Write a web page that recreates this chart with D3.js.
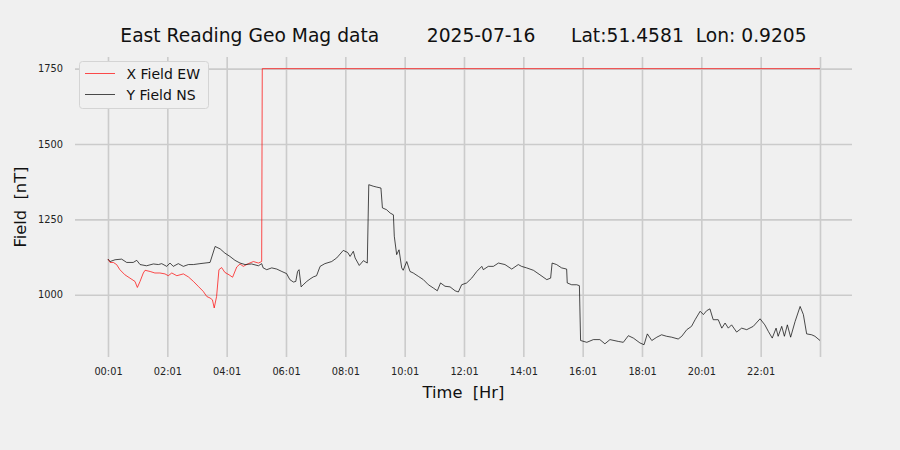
<!DOCTYPE html>
<html>
<head>
<meta charset="utf-8">
<script src="https://cdn.jsdelivr.net/npm/d3@7"></script>
<style>
  html, body { margin: 0; padding: 0; background: #f0f0f0; }
  svg { display: block; }
  text { font-family: "DejaVu Sans", sans-serif; }
</style>
</head>
<body>
<svg id="chart" width="900" height="450"></svg>
<script>
// ---- Data: [hours since 00:01, field nT] ----
const titleText = "East Reading Geo Mag data        2025-07-16      Lat:51.4581  Lon: 0.9205";
const seriesNames = ["X Field EW", "Y Field NS"];
const seriesColors = ["#ff0000", "#000000"];

const xFieldEW = [
  [0.00,1118],[0.07,1107],[0.18,1107],[0.29,1100],[0.40,1083],[0.57,1066],[0.74,1055],[0.91,1044],[0.99,1024],
  [1.08,1044],[1.19,1072],[1.25,1081],[1.42,1077],[1.58,1072],[1.75,1072],[1.92,1069],[2.03,1063],[2.15,1072],
  [2.32,1063],[2.54,1069],[2.71,1059],[2.88,1044],[3.04,1028],[3.21,1011],[3.33,994],[3.44,989],[3.52,983],
  [3.58,956],[3.66,994],[3.74,1083],[3.83,1090],[3.94,1074],[4.08,1066],[4.20,1058],[4.34,1092],[4.45,1102],
  [4.56,1094],[4.73,1103],[4.90,1110],[5.07,1105],[5.18,1110],[5.20,1750],[24.00,1750]
];

const yFieldNS = [
  [0.00,1118],[0.07,1110],[0.24,1116],[0.46,1118],[0.63,1107],[0.85,1107],[0.97,1114],[1.08,1100],[1.30,1096],
  [1.53,1102],[1.70,1100],[1.81,1103],[1.98,1094],[2.09,1105],[2.20,1094],[2.37,1103],[2.54,1094],[2.71,1100],
  [2.88,1100],[3.10,1103],[3.44,1107],[3.61,1160],[3.78,1152],[3.94,1138],[4.11,1127],[4.28,1114],[4.45,1105],
  [4.62,1100],[4.84,1102],[5.07,1096],[5.18,1103],[5.23,1089],[5.35,1083],[5.52,1089],[5.69,1085],[5.86,1077],
  [6.02,1070],[6.13,1050],[6.25,1042],[6.33,1044],[6.39,1077],[6.44,1083],[6.51,1026],[6.58,1033],[6.70,1044],
  [6.81,1052],[6.92,1059],[7.03,1063],[7.15,1094],[7.31,1103],[7.54,1110],[7.71,1122],[7.93,1147],[8.08,1140],
  [8.16,1127],[8.27,1144],[8.33,1122],[8.47,1097],[8.61,1113],[8.74,1105],[8.79,1365],[8.94,1360],[9.06,1357],
  [9.20,1354],[9.25,1288],[9.39,1282],[9.51,1271],[9.62,1265],[9.65,1194],[9.73,1133],[9.81,1149],[9.90,1089],
  [9.95,1081],[10.07,1110],[10.18,1077],[10.29,1072],[10.46,1061],[10.63,1050],[10.80,1033],[10.97,1022],
  [11.10,1013],[11.21,1039],[11.36,1028],[11.53,1026],[11.70,1013],[11.81,1009],[11.92,1033],[12.09,1039],
  [12.26,1055],[12.43,1077],[12.60,1094],[12.65,1083],[12.82,1094],[12.99,1094],[13.16,1105],[13.38,1100],
  [13.61,1085],[13.83,1100],[13.94,1094],[14.11,1089],[14.34,1081],[14.56,1066],[14.79,1050],[14.92,1055],
  [14.97,1105],[15.12,1100],[15.29,1089],[15.46,1085],[15.48,1039],[15.63,1033],[15.80,1033],[15.89,1030],
  [15.93,848],[16.14,842],[16.36,851],[16.58,851],[16.75,837],[16.92,851],[17.20,845],[17.37,842],[17.54,864],
  [17.71,856],[17.93,840],[18.07,834],[18.18,870],[18.33,848],[18.50,859],[18.66,867],[18.83,862],[19.00,859],
  [19.22,853],[19.34,862],[19.51,884],[19.67,895],[19.79,917],[19.96,945],[20.07,934],[20.18,947],[20.29,953],
  [20.40,917],[20.57,917],[20.69,889],[20.80,906],[20.91,889],[21.02,900],[21.19,876],[21.36,889],[21.53,884],
  [21.75,895],[21.98,920],[22.14,900],[22.26,878],[22.39,856],[22.52,889],[22.59,862],[22.71,895],[22.80,862],
  [22.90,900],[23.01,859],[23.16,911],[23.33,961],[23.44,934],[23.55,870],[23.72,867],[23.83,862],[24.00,848]
];

const xTickValues = [0, 2, 4, 6, 8, 10, 12, 14, 16, 18, 20, 22, 24];
const xTickLabels = ["00:01", "02:01", "04:01", "06:01", "08:01", "10:01", "12:01", "14:01", "16:01", "18:01", "20:01", "22:01", ""];
const yTickValues = [1000, 1250, 1500, 1750];

// ---- Layout ----
const svg = d3.select("#chart");
const W = 900, H = 450;
const plot = { left: 75, right: 852, top: 57, bottom: 357 };

svg.append("rect").attr("width", W).attr("height", H).attr("fill", "#f0f0f0");

const x = d3.scaleLinear().domain([0, 24]).range([108, 820]);
const y = d3.scaleLinear().domain([1000, 1750]).range([294.7, 68.65]);

// Grid
const gridColor = "#cbcbcb";
const gx = svg.append("g").attr("transform", `translate(0,${plot.bottom})`)
  .call(d3.axisBottom(x).tickValues(xTickValues).tickFormat((d, i) => xTickLabels[i])
    .tickSize(-(plot.bottom - plot.top)).tickPadding(11));
gx.select(".domain").remove();
gx.selectAll(".tick line").attr("stroke", gridColor).attr("stroke-width", 1.6);
gx.selectAll(".tick text").attr("font-size", "9.8px").attr("fill", "#222")
  .attr("font-family", "DejaVu Sans, sans-serif");

const gy = svg.append("g").attr("transform", `translate(${plot.left},0)`)
  .call(d3.axisLeft(y).tickValues(yTickValues).tickFormat(d3.format("d"))
    .tickSize(-(plot.right - plot.left)).tickPadding(12));
gy.select(".domain").remove();
gy.selectAll(".tick line").attr("stroke", gridColor).attr("stroke-width", 1.6);
gy.selectAll(".tick text").attr("font-size", "9.8px").attr("fill", "#222")
  .attr("font-family", "DejaVu Sans, sans-serif");

// Lines
const lineGen = d3.line().x(d => x(d[0])).y(d => y(d[1]));
[xFieldEW, yFieldNS].forEach((data, i) => {
  svg.append("path").datum(data)
    .attr("d", lineGen)
    .attr("fill", "none")
    .attr("stroke", seriesColors[i])
    .attr("stroke-width", 0.7)
    .attr("stroke-linejoin", "round");
});

// Title
svg.append("text")
  .attr("x", (plot.left + plot.right) / 2).attr("y", 42)
  .attr("text-anchor", "middle")
  .attr("font-size", "18.7px")
  .attr("fill", "#111")
  .style("white-space", "pre")
  .text(titleText);

// Axis labels
svg.append("text")
  .attr("x", (plot.left + plot.right) / 2).attr("y", 398)
  .attr("text-anchor", "middle").attr("font-size", "16.3px").attr("fill", "#111")
  .style("white-space", "pre")
  .text("Time  [Hr]");
svg.append("text")
  .attr("transform", `translate(26,${(plot.top + plot.bottom) / 2}) rotate(-90)`)
  .attr("text-anchor", "middle").attr("font-size", "16.3px").attr("fill", "#111")
  .style("white-space", "pre")
  .text("Field  [nT]");

// Legend
const lg = svg.append("g");
lg.append("rect").attr("x", 79.5).attr("y", 61.5).attr("width", 129).attr("height", 47)
  .attr("rx", 3).attr("fill", "#f0f0f0").attr("stroke", "#d4d4d4").attr("stroke-width", 1);
seriesNames.forEach((name, i) => {
  const yy = 73.5 + i * 21;
  lg.append("line").attr("x1", 85).attr("x2", 115).attr("y1", yy).attr("y2", yy)
    .attr("stroke", seriesColors[i]).attr("stroke-width", 0.7);
  lg.append("text").attr("x", 126.5).attr("y", yy + 5).attr("font-size", "14px").attr("fill", "#111")
    .text(name);
});
</script>
</body>
</html>
